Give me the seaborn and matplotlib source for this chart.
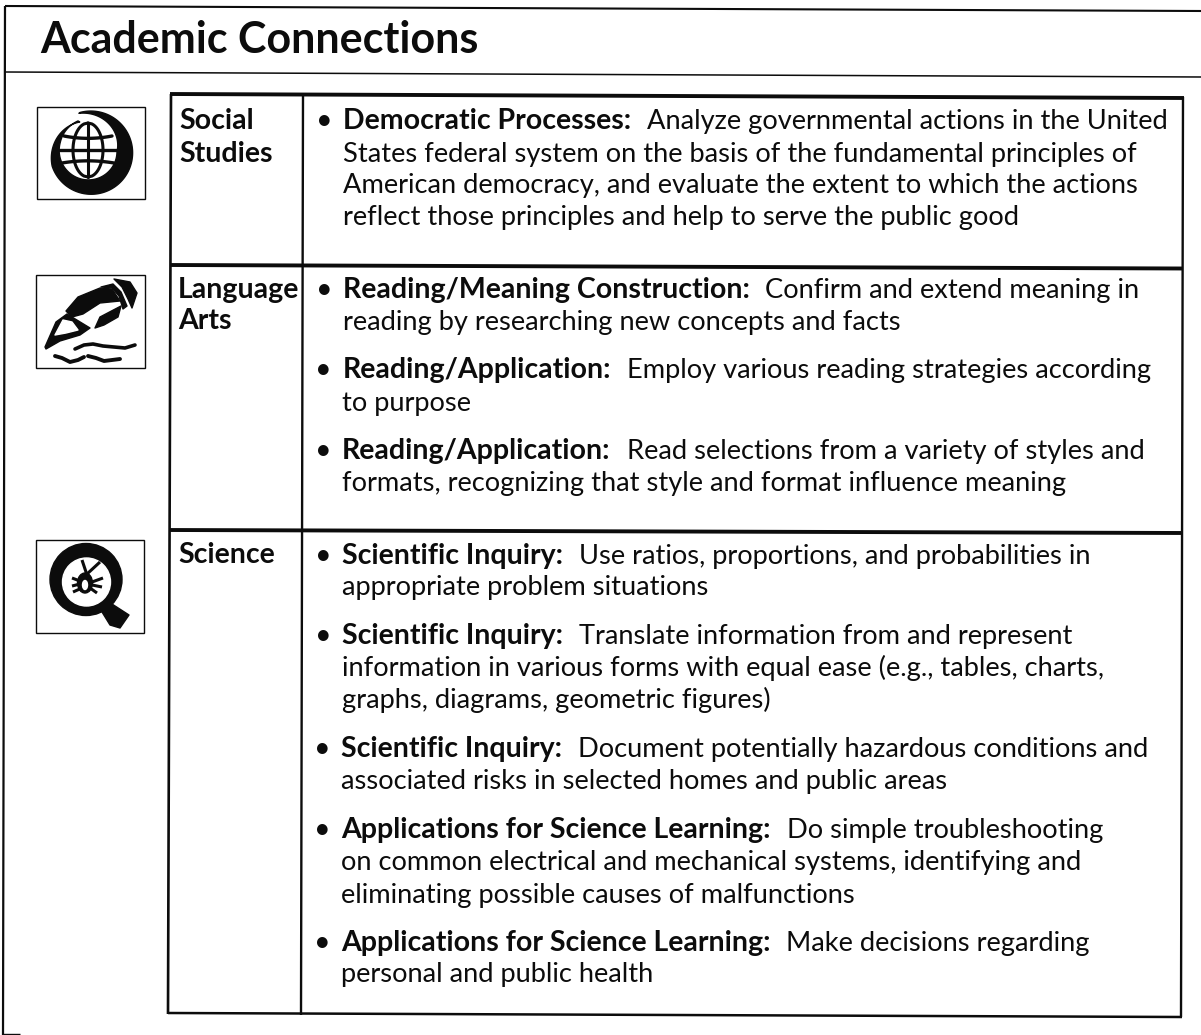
import matplotlib
matplotlib.use('Agg')
import matplotlib.pyplot as plt
import matplotlib.patches as mp
import numpy as np
import seaborn as sns

W, H = 1201, 1035
title = 'Academic Connections'
subjects = [['Social', 'Studies'], ['Language', 'Arts'], ['Science']]
subject_x = [179, 178, 178]
subject_base = [[129, 162], [298, 329], [563]]
leads = ['Democratic Processes:', 'Reading/Meaning Construction:', 'Reading/Application:',
         'Reading/Application:', 'Scientific Inquiry:', 'Scientific Inquiry:',
         'Scientific Inquiry:', 'Applications for Science Learning:',
         'Applications for Science Learning:']
rests = ['Analyze governmental actions in the United', 'Confirm and extend meaning in',
         'Employ various reading strategies according', 'Read selections from a variety of styles and',
         'Use ratios, proportions, and probabilities in', 'Translate information from and represent',
         'Document potentially hazardous conditions and', 'Do simple troubleshooting',
         'Make decisions regarding']
others = [['States federal system on the basis of the fundamental principles of',
           'American democracy, and evaluate the extent to which the actions',
           'reflect those principles and help to serve the public good'],
          ['reading by researching new concepts and facts'],
          ['to purpose'],
          ['formats, recognizing that style and format influence meaning'],
          ['appropriate problem situations'],
          ['information in various forms with equal ease (e.g., tables, charts,',
           'graphs, diagrams, geometric figures)'],
          ['associated risks in selected homes and public areas'],
          ['on common electrical and mechanical systems, identifying and',
           'eliminating possible causes of malfunctions'],
          ['personal and public health']]
baselines = [[129, 162, 193, 225], [298, 330], [378, 411], [459, 491], [564, 595],
             [644, 676, 708], [757, 789], [838, 870, 903], [951, 982]]

sns.set_theme(style='white')
plt.rcParams['font.family'] = ['Lato', 'DejaVu Sans']

fig, ax = plt.subplots(figsize=(W / 100, H / 100), dpi=100)
ax.set_position([0, 0, 1, 1])
ax.set_xlim(0, W)
ax.set_ylim(H, 0)
ax.axis('off')
INK = '#0c0c0c'
BOLD = 20.5
REG = 19.6


def seg(x0, y0, x1, y1, lw):
    ax.plot([x0, x1], [y0, y1], color=INK, lw=lw, solid_capstyle='butt')


def blob(pts, fc=INK):
    ax.add_patch(mp.Polygon(pts, closed=True, fc=fc, ec=fc, lw=1.0, joinstyle='round'))


# outer frame
seg(5, 6, 1201, 11, 1.5)
seg(5, 72, 1201, 77, 1.1)
seg(5, 6, 3, 1035, 1.6)
seg(3, 1034, 20, 1034, 1.0)
ax.text(40, 53, title, fontsize=31, fontweight='bold', color=INK, va='baseline')

# table
seg(170, 94, 1184, 98, 2.8)
seg(170, 265, 1183, 268.5, 2.8)
seg(169, 530, 1183, 533, 2.8)
seg(168, 1013, 1182, 1017, 1.8)
seg(171, 94, 168, 1014, 1.9)
seg(1183, 97, 1181, 1017, 1.7)
seg(303, 95, 301, 1015, 1.7)

for lines, x, bases in zip(subjects, subject_x, subject_base):
    for s, y in zip(lines, bases):
        ax.text(x, y, s, fontsize=BOLD, fontweight='bold', color=INK, va='baseline')

fig.canvas.draw()
rend = fig.canvas.get_renderer()
for lead, rest, more, ys in zip(leads, rests, others, baselines):
    # scan is a little skewed, text column drifts left going down
    x = 343 - (ys[0] - 129) / 822 * 2
    ax.text(x - 27, ys[0], '•', fontsize=BOLD, color=INK, va='baseline')
    t = ax.text(x, ys[0], lead, fontsize=BOLD, fontweight='bold', color=INK, va='baseline')
    x1 = t.get_window_extent(rend).x1
    ax.text(x1 + 16, ys[0], rest, fontsize=REG, color=INK, va='baseline')
    for s, y in zip(more, ys[1:]):
        ax.text(x, y, s, fontsize=REG, color=INK, va='baseline')

# icon boxes
for x0, y0, x1, y1 in [(37, 107, 145, 199), (36, 275, 145, 368), (36, 540, 144, 633)]:
    ax.add_patch(mp.Rectangle((x0, y0), x1 - x0, y1 - y0, fill=False, ec=INK, lw=1.0))

# globe icon: spiral ring with grid
t = np.linspace(0, 1, 200)
ang = np.radians(105 - 355 * t)
r_out = np.interp(t, [0, 0.75, 1], [42, 41, 33])
r_in = np.interp(t, [0, 0.3, 0.85, 1], [39, 28, 30, 32])
outer = np.c_[91 + r_out * np.cos(ang), 153 - r_out * np.sin(ang)]
inner = np.c_[89 + r_in * np.cos(ang), 151 - r_in * np.sin(ang)]
blob(np.vstack([outer, inner[::-1]]))
u = np.linspace(-1, 1, 60)
for w in [0, 15]:
    for sign in ([1] if w == 0 else [-1, 1]):
        ax.plot(88 + sign * w * np.sqrt(1 - u ** 2), 150 + 27 * u, color=INK, lw=2.2)
for dy, half in [(-14, 24), (0, 29), (13, 26)]:
    ax.plot(88 + half * u, 150 + dy + (dy / 6) * (1 - u ** 2) * -1, color=INK, lw=2.4)

# pen icon
blob([(45, 347), (56, 322), (67, 314), (90, 328), (80, 335), (60, 341), (46, 349)])
blob([(55, 335), (63, 320), (72, 322), (78, 330), (66, 333)], fc='white')
blob([(66, 311), (78, 297), (100, 288), (112, 289), (120, 301), (100, 303), (83, 314), (72, 317)])
blob([(95, 328), (100, 317), (121, 306), (118, 317), (104, 325)])
blob([(114, 279), (130, 282), (137, 293), (132, 308), (128, 299), (122, 287)])
blob([(101, 287), (113, 284), (121, 292), (127, 306), (123, 309), (119, 296), (112, 288)])
ax.plot([75, 84, 93, 103, 114, 125, 135], [349, 345, 344, 346, 347, 348, 345], color=INK, lw=2.6)
ax.plot([55, 62, 70, 78, 84], [356, 358, 362, 360, 357], color=INK, lw=2.8)
ax.plot([88, 96, 104, 120], [356, 358, 361, 359], color=INK, lw=2.8)

# magnifier icon with bug
ax.add_patch(mp.Circle((86, 579.5), 36, fc=INK, ec=INK))
ax.add_patch(mp.Circle((86.5, 582), 24, fc='white', ec='white'))
blob([(102, 612), (112, 604), (129, 615), (120, 628), (110, 625)])
ax.add_patch(mp.Ellipse((85, 583), 15, 20, fc=INK, ec=INK))
ax.add_patch(mp.Ellipse((85, 585), 5, 9, fc='white', ec='white'))
for a, b in [((82, 560), (87, 575)), ((100, 562), (87, 574)), ((72, 578), (80, 581)),
             ((72, 586), (80, 584)), ((73, 592), (82, 588)), ((103, 578), (92, 582)),
             ((102, 587), (92, 585)), ((97, 593), (90, 588))]:
    seg(a[0], a[1], b[0], b[1], 2.2)

fig.savefig('out.png', dpi=100, facecolor='white')
